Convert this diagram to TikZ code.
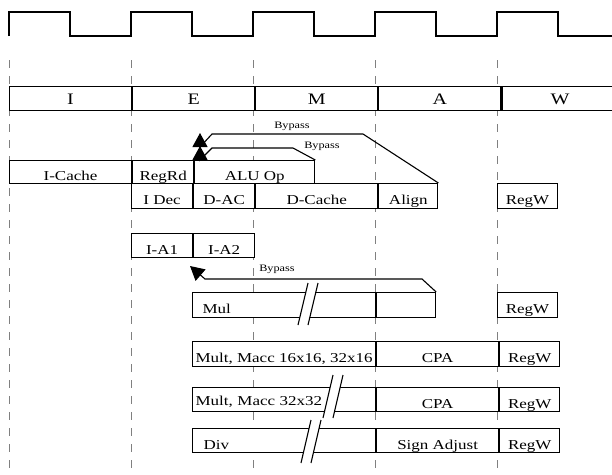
\documentclass[tikz,border=0pt]{standalone}
\usepackage{fontspec}
\setmainfont{Liberation Serif}[FakeStretch=1.25]
\usetikzlibrary{positioning, arrows.meta}

\begin{document}
\begin{tikzpicture}[x=1pt, y=-1pt,
			stage/.style={draw, line width=1.1pt, fill=white, rectangle, minimum width=122pt, minimum height=24pt, inner sep=0pt, text height=12pt, text depth=0pt, font=\fontsize{16}{18}\selectfont},
			unit/.style={draw, line width=1.1pt, fill=white, rectangle, minimum height=24pt, inner sep=0pt, text height=17pt, text depth=0pt, font=\fontsize{13.6}{16}\selectfont},
			bypass/.style={line width=1.1pt, -{Triangle[length=14pt, width=15pt]}},
			tag/.style={inner sep=0pt, font=\fontsize{9.8}{11}\selectfont},
			tick/.style={gray, line width=0.8pt, dash pattern=on 8pt off 8pt},
			clock/.style={line width=1.1pt},
			slash/.style={line width=1.1pt}
			]
			\useasboundingbox (0,0) rectangle (612,474);
			
			% clock
			\draw [clock] (9,36) -- (9,12) -- (70,12) -- (70,36) -- (131,36) -- (131,12) -- (192,12) -- (192,36) -- (253,36) -- (253,12) -- (314,12) -- (314,36) -- (375,36) -- (375,12) -- (436,12) -- (436,36) -- (497,36) -- (497,12) -- (558,12) -- (558,36) -- (612,36);
			
			% stage boundaries
			\draw [tick] (9,60) -- (9,472);
			\draw [tick] (131,60) -- (131,472);
			\draw [tick] (253,60) -- (253,472);
			\draw [tick] (375,60) -- (375,472);
			\draw [tick] (497,60) -- (497,472);
			
			% stages
			\node [stage, anchor=north west](I) at (9,86) {I};
			\node [stage](E) [right=0pt of I] {E};
			\node [stage](M) [right=0pt of E] {M};
			\node [stage](A) [right=0pt of M] {A};
			\node [stage, minimum width=116pt](W) [right=0pt of A] {W};
			
			% integer pipe
			\node [unit, minimum width=122pt, minimum height=23pt, anchor=north west](icache) at (9,160) {I-Cache};
			\node [unit, minimum width=61pt, minimum height=23pt](regrd) [right=0pt of icache] {RegRd};
			\node [unit, minimum width=120pt, minimum height=23pt](aluop) [right=0pt of regrd] {ALU Op};
			\node [unit, minimum width=61pt, minimum height=25pt, anchor=north west](idec) at (131,183) {I Dec};
			\node [unit, minimum width=61pt, minimum height=25pt](dac) [right=0pt of idec] {D-AC};
			\node [unit, minimum width=122pt, minimum height=25pt](dcache) [right=0pt of dac] {D-Cache};
			\node [unit, minimum width=59pt, minimum height=25pt](align) [right=0pt of dcache] {Align};
			\node [unit, minimum width=60pt, minimum height=25pt, anchor=north west](regwa) at (497,183) {RegW};
			
			\node [unit, minimum width=61pt, anchor=north west](ia1) at (131,233) {I-A1};
			\node [unit, minimum width=61pt](ia2) [right=0pt of ia1] {I-A2};
			
			% mul / div unit
			\node [unit, minimum height=25pt, text width=163pt, inner xsep=10pt, align=left, anchor=north west](mul) at (192,292) {Mul};
			\node [unit, minimum width=59pt, minimum height=25pt](mulx) [right=0pt of mul] {};
			\node [unit, minimum width=60pt, minimum height=25pt, anchor=north west](regwb) at (497,292) {RegW};
			
			\node [unit, minimum width=183pt, minimum height=25pt, anchor=north west](mult16) at (192,341) {Mult, Macc 16x16, 32x16};
			\node [unit, minimum width=122pt, minimum height=25pt](cpaa) [right=0pt of mult16] {CPA};
			\node [unit, minimum width=60pt, minimum height=25pt](regwc) [right=0pt of cpaa] {RegW};
			
			\node [unit, text height=12pt, text width=177pt, inner xsep=3pt, align=left, anchor=north west](mult32) at (192,387) {Mult, Macc 32x32};
			\node [unit, minimum width=122pt](cpab) [right=0pt of mult32] {CPA};
			\node [unit, minimum width=60pt](regwd) [right=0pt of cpab] {RegW};
			
			\node [unit, text width=161pt, inner xsep=11pt, align=left, anchor=north west](div) at (192,428) {Div};
			\node [unit, minimum width=122pt](sign) [right=0pt of div] {Sign Adjust};
			\node [unit, minimum width=60pt](regwe) [right=0pt of sign] {RegW};
			
			% breaks
			\fill [white] (298,325) -- (308,283) -- (318,283) -- (308,325) -- cycle;
			\draw [slash] (298,325) -- (308,283);
			\draw [slash] (308,325) -- (318,283);
			\fill [white] (323,418) -- (333,375) -- (343,375) -- (333,418) -- cycle;
			\draw [slash] (323,418) -- (333,375);
			\draw [slash] (333,418) -- (343,375);
			\fill [white] (301,463) -- (311,420) -- (321,420) -- (311,463) -- cycle;
			\draw [slash] (301,463) -- (311,420);
			\draw [slash] (311,463) -- (321,420);
			
			% bypasses
			\coordinate (tipa) at (200,133);
			\coordinate (tipb) at (200,146);
			\coordinate (tipc) at (190,266);
			\draw [bypass] (align.north east) -- (363,134) -- (212,134) -- (200,147) -- (tipa);
			\draw [bypass] (aluop.north east) -- (293,148) -- (212,148) -- (200,160) -- (tipb);
			\draw [bypass] (mulx.north east) -- (422,279) -- (205,279) -- (tipc);
			\node [tag](bpa) at (292,126) {Bypass};
			\node [tag](bpb) at (322,146) {Bypass};
			\node [tag](bpc) at (277,269) {Bypass};
		\end{tikzpicture}
\end{document}
